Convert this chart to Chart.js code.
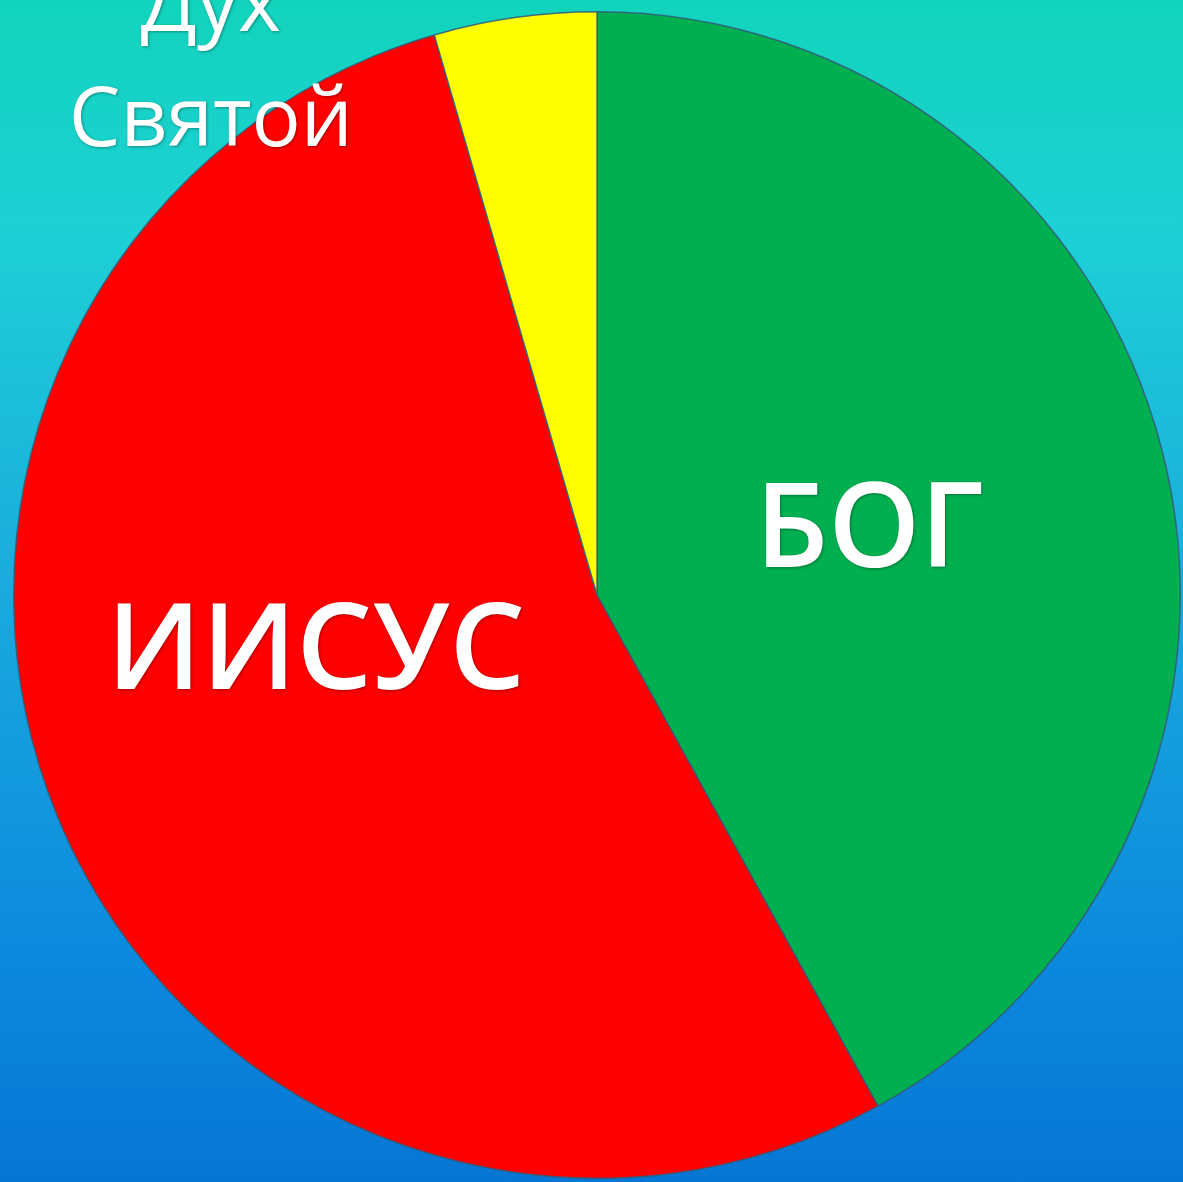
<!DOCTYPE html>
<html>
<head>
<meta charset="utf-8">
<script src="https://cdn.jsdelivr.net/npm/chart.js@4/dist/chart.umd.min.js"></script>
<style>
  html, body { margin: 0; padding: 0; width: 1183px; height: 1182px; overflow: hidden; }
  body { background: linear-gradient(to bottom, #12D4BC 0%, #1DD0D6 20%, #1AAADD 50%, #0C8ADE 80%, #0676D4 100%); }
  #wrap { position: relative; width: 1183px; height: 1182px; }
</style>
</head>
<body>
<div id="wrap"><canvas id="c"></canvas></div>
<script>
const categories = ["БОГ", "ИИСУС", "Дух Святой"];
const values = [42, 53.5, 4.5];
const colors = ["#00B050", "#FF0000", "#FFFF00"];

// label placement: offsets as fraction of the pie radius, font size as fraction of radius
const labelSpecs = [
  { lines: ["БОГ"], dx: 0.467, dy: -0.105, size: 0.2, lineH: 0, weight: 600 },
  { lines: ["ИИСУС"], dx: -0.482, dy: 0.103, size: 0.205, lineH: 0, weight: 600 },
  { lines: ["Дух", "Святой"], dx: -0.662, dy: -0.908, size: 0.14, lineH: 0.197, weight: 400 }
];

const labelPlugin = {
  id: 'sliceLabels',
  afterDatasetsDraw(chart) {
    const meta = chart.getDatasetMeta(0);
    const arc = meta.data[0];
    const cx = arc.x, cy = arc.y, r = arc.outerRadius;
    const ctx = chart.ctx;
    ctx.save();
    ctx.fillStyle = '#FFFFFF';
    ctx.textAlign = 'center';
    ctx.textBaseline = 'middle';
    ctx.shadowColor = 'rgba(0,0,0,0.35)';
    ctx.shadowBlur = 3;
    ctx.shadowOffsetX = 1;
    ctx.shadowOffsetY = 1;
    labelSpecs.forEach((s) => {
      ctx.font = s.weight + ' ' + Math.round(s.size * r) + 'px "Open Sans", "DejaVu Sans", sans-serif';
      const n = s.lines.length;
      s.lines.forEach((t, i) => {
        const off = (i - (n - 1) / 2) * s.lineH * r;
        ctx.fillText(t, cx + s.dx * r, cy + s.dy * r + off);
      });
    });
    ctx.restore();
  }
};

new Chart(document.getElementById('c'), {
  type: 'pie',
  data: {
    labels: categories,
    datasets: [{
      data: values,
      backgroundColor: colors,
      borderColor: 'rgba(50,90,120,0.85)',
      borderWidth: 1.5
    }]
  },
  options: {
    responsive: true,
    maintainAspectRatio: false,
    animation: false,
    layout: { padding: { left: 13, right: 2, top: 11, bottom: 3 } },
    plugins: {
      legend: { display: false },
      tooltip: { enabled: false }
    }
  },
  plugins: [labelPlugin]
});
</script>
</body>
</html>
